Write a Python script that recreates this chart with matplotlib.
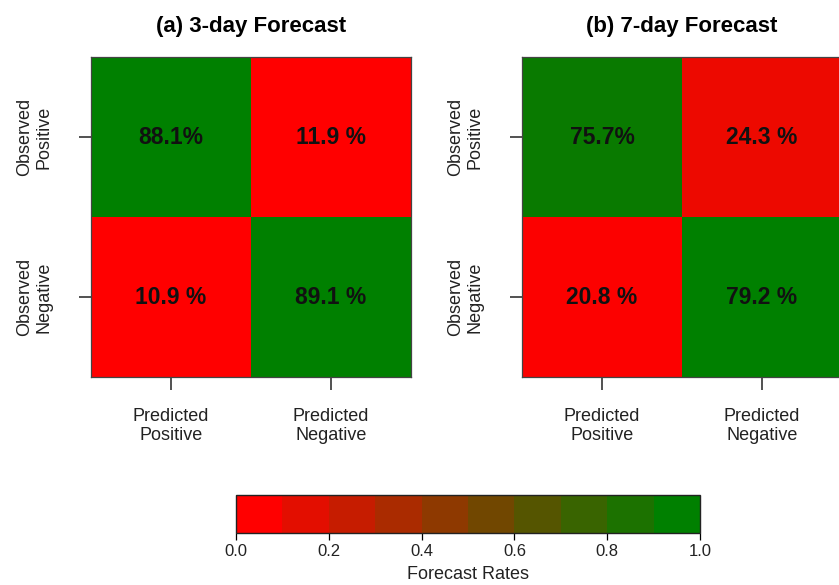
import numpy as np
import matplotlib
matplotlib.use("Agg")
from matplotlib import pyplot as plt
from matplotlib.colors import LinearSegmentedColormap, Normalize
from matplotlib.cm import ScalarMappable

plt.rcParams['font.family'] = ['Liberation Sans', 'DejaVu Sans']

# forecast rates: rows = observed (positive, negative), cols = predicted (positive, negative)
rates_3day = np.array([[0.881, 0.119],
                       [0.109, 0.891]])
rates_7day = np.array([[0.757, 0.243],
                       [0.208, 0.792]])
label_fmt = [["{:.1f}%", "{:.1f} %"],
             ["{:.1f} %", "{:.1f} %"]]
titles = ["(a) 3-day Forecast", "(b) 7-day Forecast"]
pred_labels = ["Predicted\nPositive", "Predicted\nNegative"]
obs_labels = ["Observed\nPositive", "Observed\nNegative"]
cbar_ticks = [0.0, 0.2, 0.4, 0.6, 0.8, 1.0]

W, H = 839, 585
red_green = LinearSegmentedColormap.from_list("red_green", ["#FF0000", "#008000"])
cell_norm = Normalize(vmin=0.2, vmax=0.78, clip=True)

fig = plt.figure(figsize=(W / 100, H / 100), dpi=100)


def px_axes(x0, y0, x1, y1):
    # axes placed by pixel box (top-left origin)
    return fig.add_axes([x0 / W, 1 - y1 / H, (x1 - x0) / W, (y1 - y0) / H])


def draw_matrix(ax, rates, title):
    ax.imshow(rates, cmap=red_green, norm=cell_norm, extent=(-0.5, 1.5, 1.5, -0.5),
              aspect='auto', interpolation='nearest')
    for i in range(2):
        for j in range(2):
            ax.text(j, i, label_fmt[i][j].format(rates[i, j] * 100), ha='center', va='center',
                    fontsize=16.5, fontweight='bold', color='#111111')
    ax.set_xticks([0, 1])
    ax.set_xticklabels(pred_labels, fontsize=13, color='#222222', linespacing=1.15)
    ax.set_yticks([0, 1])
    ax.set_yticklabels(obs_labels, fontsize=13, color='#222222', rotation=90,
                       va='center', ma='center', linespacing=1.15)
    ax.tick_params(axis='x', length=9, width=1.1, color='#222222', pad=13)
    ax.tick_params(axis='y', length=9, width=1.1, color='#222222', pad=19)
    for sp in ax.spines.values():
        sp.set_color('#444444')
        sp.set_linewidth(0.9)
    ax.set_title(title, fontsize=16, fontweight='bold', pad=18)


ax_a = px_axes(91, 57, 411, 377)
ax_b = px_axes(522, 57, 842, 377)
draw_matrix(ax_a, rates_3day, titles[0])
draw_matrix(ax_b, rates_7day, titles[1])

# discrete colour key
cax = px_axes(236, 495, 700, 533)
sm = ScalarMappable(norm=Normalize(0, 1), cmap=red_green.resampled(10))
cb = fig.colorbar(sm, cax=cax, orientation='horizontal', ticks=cbar_ticks)
cb.ax.set_xticklabels(["{:.1f}".format(t) for t in cbar_ticks], fontsize=12, color='#222222')
cb.ax.tick_params(length=5, width=0.9, pad=3)
cb.outline.set_linewidth(1.0)
cb.outline.set_edgecolor('#222222')
cb.set_label("Forecast Rates", fontsize=13, color='#222222', labelpad=5)

fig.savefig("out.png", dpi=100)
